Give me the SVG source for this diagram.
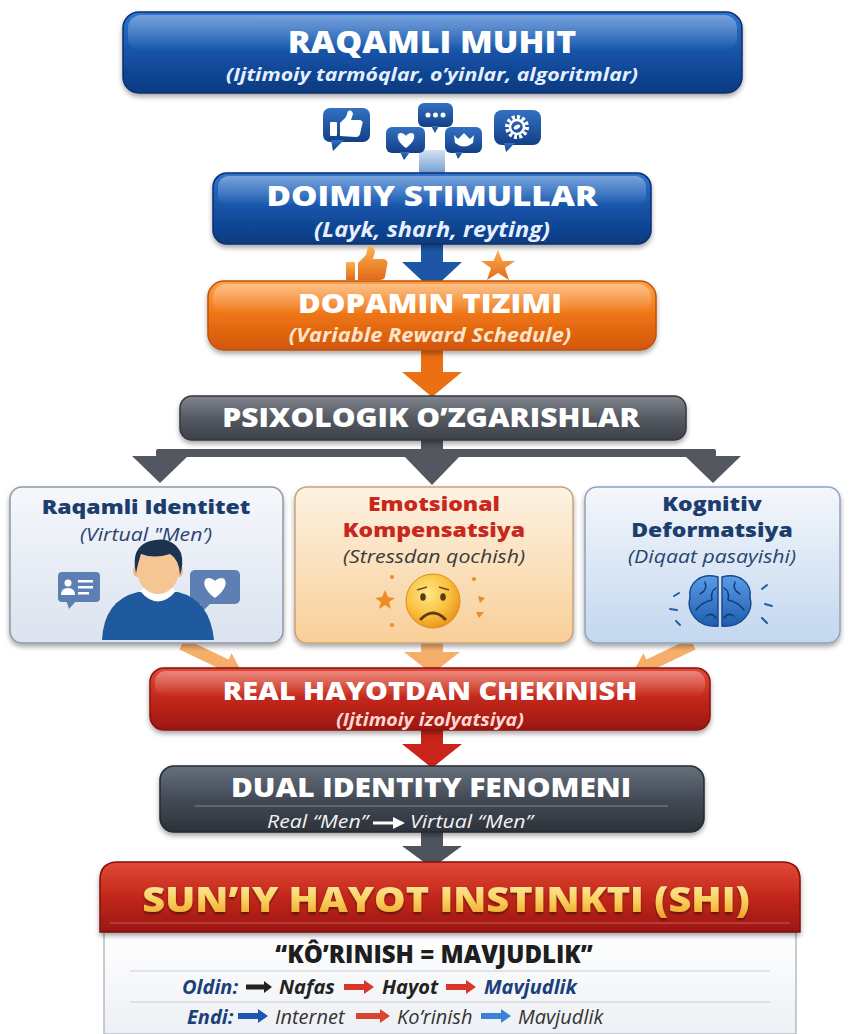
<svg xmlns="http://www.w3.org/2000/svg" width="850" height="1034" viewBox="0 0 850 1034">
<defs>
  <linearGradient id="gBlue" x1="0" y1="0" x2="0" y2="1">
    <stop offset="0" stop-color="#2f74cc"/>
    <stop offset="0.5" stop-color="#1553a8"/>
    <stop offset="1" stop-color="#0b3a80"/>
  </linearGradient>
  <linearGradient id="gIcon" x1="0" y1="0" x2="0" y2="1">
    <stop offset="0" stop-color="#3471c2"/>
    <stop offset="1" stop-color="#123f86"/>
  </linearGradient>
  <linearGradient id="gOrange" x1="0" y1="0" x2="0" y2="1">
    <stop offset="0" stop-color="#fca24a"/>
    <stop offset="0.5" stop-color="#ee7414"/>
    <stop offset="1" stop-color="#d2560a"/>
  </linearGradient>
  <linearGradient id="gOrangeIcon" x1="0" y1="0" x2="0" y2="1">
    <stop offset="0" stop-color="#fbb14e"/>
    <stop offset="1" stop-color="#e3691a"/>
  </linearGradient>
  <linearGradient id="gGray" x1="0" y1="0" x2="0" y2="1">
    <stop offset="0" stop-color="#80858e"/>
    <stop offset="0.5" stop-color="#555a62"/>
    <stop offset="1" stop-color="#3c4047"/>
  </linearGradient>
  <linearGradient id="gRed" x1="0" y1="0" x2="0" y2="1">
    <stop offset="0" stop-color="#e24a36"/>
    <stop offset="0.5" stop-color="#c2271b"/>
    <stop offset="1" stop-color="#9b1711"/>
  </linearGradient>
  <linearGradient id="gDark" x1="0" y1="0" x2="0" y2="1">
    <stop offset="0" stop-color="#66707c"/>
    <stop offset="0.5" stop-color="#434b56"/>
    <stop offset="1" stop-color="#2c323b"/>
  </linearGradient>
  <linearGradient id="gGold" x1="0" y1="0" x2="0" y2="1">
    <stop offset="0" stop-color="#fff6c4"/>
    <stop offset="0.55" stop-color="#f9cf5a"/>
    <stop offset="1" stop-color="#e8951f"/>
  </linearGradient>
  <linearGradient id="gGloss" x1="0" y1="0" x2="0" y2="1">
    <stop offset="0" stop-color="#fff" stop-opacity="0.35"/>
    <stop offset="1" stop-color="#fff" stop-opacity="0"/>
  </linearGradient>
  <linearGradient id="gBoxL" x1="0" y1="0" x2="0" y2="1">
    <stop offset="0" stop-color="#f5f7fb"/>
    <stop offset="1" stop-color="#dbe3ef"/>
  </linearGradient>
  <linearGradient id="gBoxM" x1="0" y1="0" x2="0" y2="1">
    <stop offset="0" stop-color="#fdf2e2"/>
    <stop offset="1" stop-color="#f8cf98"/>
  </linearGradient>
  <linearGradient id="gBoxR" x1="0" y1="0" x2="0" y2="1">
    <stop offset="0" stop-color="#f4f7fb"/>
    <stop offset="1" stop-color="#c3d7ef"/>
  </linearGradient>
  <linearGradient id="gConn" x1="0" y1="0" x2="0" y2="1">
    <stop offset="0" stop-color="#d3e3f3"/>
    <stop offset="1" stop-color="#6f9dd2"/>
  </linearGradient>
  <linearGradient id="gPanel" x1="0" y1="0" x2="0" y2="1">
    <stop offset="0" stop-color="#ffffff"/>
    <stop offset="1" stop-color="#edf0f4"/>
  </linearGradient>
  <linearGradient id="gBrain" x1="0" y1="0" x2="0" y2="1">
    <stop offset="0" stop-color="#5b9be6"/>
    <stop offset="1" stop-color="#1f5cb0"/>
  </linearGradient>
  <radialGradient id="gFace" cx="0.4" cy="0.35" r="0.7">
    <stop offset="0" stop-color="#ffe88a"/>
    <stop offset="0.6" stop-color="#f9bf3a"/>
    <stop offset="1" stop-color="#e98f1b"/>
  </radialGradient>
  <filter id="sh" x="-10%" y="-20%" width="120%" height="160%">
    <feDropShadow dx="0" dy="3" stdDeviation="2.5" flood-color="#000" flood-opacity="0.35"/>
  </filter>
  <filter id="shT" x="-5%" y="-20%" width="110%" height="150%">
    <feDropShadow dx="0" dy="2" stdDeviation="1" flood-color="#000" flood-opacity="0.45"/>
  </filter>
</defs>
<style>
  .t { font-family: "Open Sans", "Liberation Sans", sans-serif; font-weight: 800; fill: #ffffff; text-anchor: middle; }
  .s { font-family: "Open Sans", "Liberation Sans", sans-serif; font-style: italic; font-weight: 700; text-anchor: middle; }
  .bt { font-family: "Open Sans", "Liberation Sans", sans-serif; font-weight: 800; text-anchor: middle; }
  .ln { font-family: "Open Sans", "Liberation Sans", sans-serif; font-style: italic; }
  .box { stroke-width: 1.5; }
</style>
<rect width="850" height="1034" fill="#ffffff"/>

<!-- connectors -->
<g id="connectors">
  <rect x="419" y="150" width="26" height="24" fill="url(#gConn)"/>
  <path d="M421 240 H443 V262 H462 L432 290 L402 262 H421 Z" fill="#1e56a6"/>
  <path d="M421 350 H443 V372 H462 L432 397 L402 372 H421 Z" fill="#ec6f12"/>
  <g fill="#535860">
    <rect x="421" y="438" width="22" height="14"/>
    <rect x="156" y="449" width="560" height="8" rx="2"/>
    <polygon points="132,456 188,456 160,483"/>
    <polygon points="403,455 461,455 432,485"/>
    <polygon points="685,456 741,456 713,483"/>
  </g>
  <g fill="#f5a65b" opacity="0.9">
    <polygon points="184.6,638.6 179.4,649.4 223.4,670.4 220.4,676.7 242.2,672.7 231.6,653.3 228.6,659.6"/>
    <polygon points="690.4,638.6 695.6,649.4 651.6,670.4 654.6,676.7 632.8,672.7 643.4,653.3 646.4,659.6"/>
    <path d="M421 643 H443 V652 H460 L432 674 L404 652 H421 Z"/>
  </g>
  <path d="M421 730 H443 V744 H462 L432 768 L402 744 H421 Z" fill="#c8241a"/>
  <path d="M421 832 H443 V846 H462 L432 868 L402 846 H421 Z" fill="#4d545e"/>
</g>

<!-- RAQAMLI MUHIT -->
<g id="n-raqamli-muhit">
  <rect x="123" y="12" width="619" height="81" rx="16" fill="url(#gBlue)" stroke="#0a2f6b" class="box" filter="url(#sh)"/>
  <rect x="128" y="15" width="609" height="36" rx="13" fill="url(#gGloss)"/>
  <text class="t" font-size="29.5" transform="translate(432 53) scale(1.15 1)">RAQAMLI MUHIT</text>
  <text class="s" font-size="18.5" fill="#e6eeff" transform="translate(432 81) scale(1.15 1)">(Ijtimoiy tarmóqlar, o’yinlar, algoritmlar)</text>
</g>

<!-- social icons -->
<g id="icons-social">
  <g fill="url(#gIcon)">
    <rect x="323" y="108" width="47" height="34" rx="7"/>
    <polygon points="331,140 344,140 333,151"/>
    <rect x="386" y="127" width="39" height="26" rx="6"/>
    <polygon points="400,152 410,152 404,160"/>
    <rect x="418" y="103" width="35" height="24" rx="6"/>
    <polygon points="431,126 439,126 435,133"/>
    <rect x="445" y="127" width="37" height="26" rx="6"/>
    <polygon points="455,152 463,152 458,159"/>
    <rect x="494" y="110" width="47" height="35" rx="8"/>
    <polygon points="504,143 515,143 506,152"/>
  </g>
  <g fill="#ffffff">
    <rect x="330" y="122" width="7" height="14" rx="1"/>
    <path d="M340 136 L340 123 L346 117 L348 111 Q352 109 353 114 L351 120 L360 120 Q364 121 362 125 L360 134 Q359 137 356 137 Z"/>
    <path d="M406 148 C396 141 396 133 401 133 C404 133 406 136 406 136 C406 136 408 133 411 133 C416 133 416 141 406 148 Z"/>
    <circle cx="428" cy="115" r="2.5"/>
    <circle cx="435.5" cy="115" r="2.5"/>
    <circle cx="443" cy="115" r="2.5"/>
    <path d="M454 135 L458 139 L464 133 L470 139 L474 135 L473 143 Q464 150 455 143 Z"/>
  </g>
  <circle cx="517" cy="127" r="10" fill="none" stroke="#fff" stroke-width="4" stroke-dasharray="3 2.2"/>
  <circle cx="517" cy="127" r="7" fill="none" stroke="#fff" stroke-width="2.5"/>
  <ellipse cx="517" cy="127" rx="3.5" ry="2" fill="#fff" transform="rotate(-30 517 127)"/>
</g>

<!-- DOIMIY STIMULLAR -->
<g id="n-doimiy-stimullar">
  <rect x="213" y="173" width="438" height="71" rx="14" fill="url(#gBlue)" stroke="#0a2f6b" class="box" filter="url(#sh)"/>
  <rect x="218" y="176" width="428" height="30" rx="11" fill="url(#gGloss)"/>
  <text class="t" font-size="29" transform="translate(432 206) scale(1.15 1)">DOIMIY STIMULLAR</text>
  <text class="s" font-size="20.5" fill="#e6eeff" transform="translate(432 237) scale(1.15 1)">(Layk, sharh, reyting)</text>
</g>

<!-- reward icons -->
<g id="icons-reward" fill="url(#gOrangeIcon)">
  <rect x="346" y="262" width="9" height="18" rx="1"/>
  <path d="M358 280 L358 263 L366 255 L368 247 Q374 245 375 252 L373 259 L384 259 Q389 261 387 266 L385 277 Q384 280 379 280 Z"/>
  <polygon points="498,250 502.5,261 515,261 505,268 509,280 498,273 487,280 491,268 481,261 493.5,261"/>
</g>

<!-- DOPAMIN TIZIMI -->
<g id="n-dopamin-tizimi">
  <rect x="208" y="281" width="448" height="69" rx="16" fill="url(#gOrange)" stroke="#c0500a" class="box" filter="url(#sh)"/>
  <rect x="213" y="284" width="438" height="30" rx="13" fill="url(#gGloss)"/>
  <text class="t" font-size="27" transform="translate(430 313) scale(1.15 1)">DOPAMIN TIZIMI</text>
  <text class="s" font-size="19" fill="#fde4cc" transform="translate(430 342) scale(1.15 1)">(Variable Reward Schedule)</text>
</g>

<!-- PSIXOLOGIK O'ZGARISHLAR -->
<g id="n-psixologik">
  <rect x="180" y="396" width="506" height="44" rx="12" fill="url(#gGray)" stroke="#33373d" class="box" filter="url(#sh)"/>
  <text class="t" font-size="26" transform="translate(431 427) scale(1.15 1)">PSIXOLOGIK O’ZGARISHLAR</text>
</g>

<!-- Raqamli Identitet -->
<g id="n-raqamli-identitet">
  <rect x="10" y="487" width="273" height="156" rx="12" fill="url(#gBoxL)" stroke="#8d99a8" class="box" filter="url(#sh)"/>
  <text class="bt" font-size="20" fill="#1c3d6e" transform="translate(146 514) scale(1.15 1)">Raqamli Identitet</text>
  <text class="ln" font-size="18.5" fill="#2a4470" text-anchor="middle" transform="translate(146 541) scale(1.15 1)">(Virtual "Men’)</text>
  <rect x="58" y="572" width="42" height="30" rx="4" fill="#5d7fb3"/>
  <polygon points="66,600 77,600 69,609" fill="#5d7fb3"/>
  <circle cx="68" cy="583" r="3.5" fill="#fff"/>
  <path d="M61 595 Q61 588 68 588 Q75 588 75 595 Z" fill="#fff"/>
  <rect x="78" y="580" width="15" height="2.5" fill="#fff"/>
  <rect x="78" y="586" width="15" height="2.5" fill="#fff"/>
  <rect x="78" y="592" width="11" height="2.5" fill="#fff"/>
  <rect x="190" y="570" width="50" height="34" rx="5" fill="#5d7fb3"/>
  <polygon points="200,602 212,602 202,612" fill="#5d7fb3"/>
  <path d="M215 598 C202 589 202 578 209 578 C212 578 215 581 215 581 C215 581 218 578 221 578 C228 578 228 589 215 598 Z" fill="#fff"/>
  <path d="M102 640 Q104 600 138 592 L178 592 Q210 600 214 640 Z" fill="#1f5a9e"/>
  <rect x="148" y="578" width="20" height="16" fill="#eeb586"/>
  <path d="M140 591 Q158 612 176 591 L171 587 Q158 601 145 587 Z" fill="#ffffff"/>
  <ellipse cx="137" cy="571" rx="4" ry="6" fill="#f0b987"/>
  <ellipse cx="179" cy="571" rx="4" ry="6" fill="#f0b987"/>
  <ellipse cx="158" cy="570" rx="21" ry="24" fill="#f6c594"/>
  <path d="M136 573 Q130 547 150 541 Q172 535 181 553 Q184 563 180 575 Q179 559 170 554 Q154 559 141 554 Q138 563 136 573 Z" fill="#1c3350"/>
</g>

<!-- Emotsional Kompensatsiya -->
<g id="n-emotsional-kompensatsiya">
  <rect x="295" y="487" width="278" height="156" rx="12" fill="url(#gBoxM)" stroke="#c9a27a" class="box" filter="url(#sh)"/>
  <text class="bt" font-size="20" fill="#c8281e" transform="translate(434 511) scale(1.15 1)">Emotsional</text>
  <text class="bt" font-size="20" fill="#c8281e" transform="translate(434 537) scale(1.15 1)">Kompensatsiya</text>
  <text class="ln" font-size="18.5" fill="#3a3a3a" text-anchor="middle" transform="translate(434 563) scale(1.15 1)">(Stressdan qochish)</text>
  <circle cx="433" cy="601" r="27" fill="url(#gFace)" stroke="#e18a1f" stroke-width="1"/>
  <ellipse cx="423" cy="597" rx="2.8" ry="3.8" fill="#5b3a1a"/>
  <ellipse cx="443" cy="597" rx="2.8" ry="3.8" fill="#5b3a1a"/>
  <path d="M417 590 L427 587 M449 590 L439 587" stroke="#7a4a1a" stroke-width="1.8" fill="none"/>
  <path d="M421 619 Q433 607 445 619" stroke="#5b3a1a" stroke-width="3" fill="none" stroke-linecap="round"/>
  <g fill="#f08a24">
    <polygon points="385,590 388,597 395,598 389,602 391,609 385,605 379,609 381,602 375,598 382,597"/>
    <circle cx="392" cy="577" r="2"/>
    <circle cx="392" cy="625" r="2"/>
    <circle cx="474" cy="579" r="2"/>
    <path d="M478 596 L485 598 L480 603 Z"/>
    <path d="M476 612 L484 612 L479 618 Z"/>
  </g>
</g>

<!-- Kognitiv Deformatsiya -->
<g id="n-kognitiv-deformatsiya">
  <rect x="585" y="487" width="255" height="156" rx="12" fill="url(#gBoxR)" stroke="#8fa2bb" class="box" filter="url(#sh)"/>
  <text class="bt" font-size="20" fill="#1c3d6e" transform="translate(712 511) scale(1.15 1)">Kognitiv</text>
  <text class="bt" font-size="20" fill="#1c3d6e" transform="translate(712 537) scale(1.15 1)">Deformatsiya</text>
  <text class="ln" font-size="18.5" fill="#2a4470" text-anchor="middle" transform="translate(712 563) scale(1.15 1)">(Diqaat pasayishi)</text>
  <path d="M718 577 C700 572 688 584 690 597 C686 612 698 628 718 626 Z" fill="url(#gBrain)" stroke="#174a92" stroke-width="1.5"/>
  <path d="M722 577 C740 572 752 584 750 597 C754 612 742 628 722 626 Z" fill="url(#gBrain)" stroke="#174a92" stroke-width="1.5"/>
  <g stroke="#123c78" stroke-width="1.5" fill="none" stroke-linecap="round">
    <path d="M705 582 Q708 590 700 594 M712 600 Q702 602 696 610 M716 588 Q710 592 712 600 M706 616 Q712 612 716 618"/>
    <path d="M735 582 Q732 590 740 594 M728 600 Q738 602 744 610 M724 588 Q730 592 728 600 M734 616 Q728 612 724 618"/>
  </g>
  <g stroke="#1f5cb0" stroke-width="2" stroke-linecap="round">
    <line x1="674" y1="596" x2="679" y2="593"/>
    <line x1="670" y1="609" x2="677" y2="610"/>
    <line x1="676" y1="621" x2="680" y2="625"/>
    <line x1="762" y1="589" x2="767" y2="585"/>
    <line x1="765" y1="604" x2="772" y2="606"/>
    <line x1="762" y1="618" x2="767" y2="623"/>
  </g>
</g>

<!-- REAL HAYOTDAN CHEKINISH -->
<g id="n-real-hayotdan">
  <rect x="150" y="668" width="560" height="62" rx="14" fill="url(#gRed)" stroke="#8a120d" class="box" filter="url(#sh)"/>
  <rect x="155" y="671" width="550" height="26" rx="11" fill="url(#gGloss)"/>
  <text class="t" font-size="25" transform="translate(430 700) scale(1.15 1)">REAL HAYOTDAN CHEKINISH</text>
  <text class="s" font-size="17" font-weight="600" fill="#ffd7cf" transform="translate(430 726) scale(1.15 1)">(Ijtimoiy izolyatsiya)</text>
</g>

<!-- DUAL IDENTITY FENOMENI -->
<g id="n-dual-identity">
  <rect x="160" y="766" width="544" height="66" rx="14" fill="url(#gDark)" stroke="#252a31" class="box" filter="url(#sh)"/>
  <text class="t" font-size="26" transform="translate(431 797) scale(1.15 1)">DUAL IDENTITY FENOMENI</text>
  <line x1="195" y1="806" x2="668" y2="806" stroke="#9aa2ad" stroke-width="1" opacity="0.7"/>
  <text class="ln" font-size="18.5" fill="#f2f2f2" text-anchor="end" transform="translate(368 828) scale(1.15 1)">Real “Men”</text>
  <path d="M373 821.5 H393 V817 L405 823 L393 829 V824.5 H373 Z" fill="#ffffff"/>
  <text class="ln" font-size="18.5" fill="#f2f2f2" transform="translate(410 828) scale(1.15 1)">Virtual “Men”</text>
</g>

<!-- SUN'IY HAYOT INSTINKTI -->
<g id="n-shi">
  <path d="M104 932 H796 V1034 H104 Z" fill="url(#gPanel)" stroke="#b5bbc4" stroke-width="1.5"/>
  <path d="M100 932 V880 Q100 862 118 862 H782 Q800 862 800 880 V932 Z" fill="url(#gRed)" stroke="#7f100b" stroke-width="1.5" filter="url(#sh)"/>
  <line x1="110" y1="923" x2="790" y2="923" stroke="#ff9a8a" stroke-width="1" opacity="0.5"/>
  <text class="bt" font-size="34.5" fill="url(#gGold)" filter="url(#shT)" transform="translate(446 912) scale(1.15 1)">SUN’IY HAYOT INSTINKTI (SHI)</text>
  <text class="bt" x="434" y="963" font-size="24" fill="#1e1e1e">“KÔ’RINISH = MAVJUDLIK”</text>
  <line x1="130" y1="971" x2="770" y2="971" stroke="#c9cdd3" stroke-width="1"/>
  <g class="ln" font-size="20" font-weight="700">
    <text x="182" y="994" fill="#1b3f7a">Oldin:</text>
    <text x="279" y="994" fill="#222">Nafas</text>
    <text x="382" y="994" fill="#222">Hayot</text>
    <text x="484" y="994" fill="#1b3f7a">Mavjudlik</text>
  </g>
  <path d="M246 984.5 H264 V981 L272 987 L264 993 V989.5 H246 Z" fill="#222"/>
  <path d="M344 984 H364 V980 L374 987 L364 994 V990 H344 Z" fill="#d9372a"/>
  <path d="M446 984 H466 V980 L476 987 L466 994 V990 H446 Z" fill="#d9372a"/>
  <line x1="130" y1="1002" x2="770" y2="1002" stroke="#c9cdd3" stroke-width="1"/>
  <g class="ln" font-size="20">
    <text x="187" y="1024" font-weight="700" fill="#1b3f7a">Endi:</text>
    <text x="275" y="1024" fill="#333">Internet</text>
    <text x="397" y="1024" fill="#333">Ko’rinish</text>
    <text x="518" y="1024" fill="#333">Mavjudlik</text>
  </g>
  <path d="M238 1013 H258 V1009 L268 1016 L258 1023 V1019 H238 Z" fill="#1f56b0"/>
  <path d="M356 1013 H380 V1009 L390 1016 L380 1023 V1019 H356 Z" fill="#d9452f"/>
  <path d="M481 1013 H501 V1009 L511 1016 L501 1023 V1019 H481 Z" fill="#3b82d6"/>
</g>
</svg>
